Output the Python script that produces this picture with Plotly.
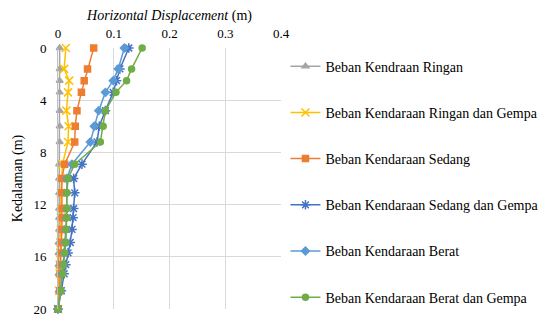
import plotly.graph_objects as go

# Depth of each reading (m)
depth = [0, 1.6, 2.5, 3.4, 4.8, 6.0, 7.2, 8.9, 10.0, 11.1, 12.3, 13.0, 13.9, 14.9, 15.7, 16.6, 17.3, 18.6, 20.0]

# Horizontal displacement (m) for each load case
ringan = [0.003, 0.003, 0.003, 0.003, 0.003, 0.003, 0.003, 0.002, 0.002, 0.002, 0.002, 0.002, 0.002, 0.001, 0.001, 0.001, 0.001, 0.001, 0.0]
ringan_gempa = [0.014, 0.011, 0.020, 0.018, 0.015, 0.019, 0.018, 0.008, 0.006, 0.005, 0.005, 0.005, 0.005, 0.004, 0.004, 0.003, 0.003, 0.002, 0.0]
sedang = [0.064, 0.053, 0.047, 0.042, 0.034, 0.031, 0.030, 0.012, 0.007, 0.007, 0.008, 0.008, 0.007, 0.006, 0.005, 0.004, 0.004, 0.003, 0.0]
sedang_gempa = [0.127, 0.111, 0.105, 0.099, 0.085, 0.074, 0.070, 0.043, 0.028, 0.030, 0.028, 0.027, 0.025, 0.022, 0.018, 0.014, 0.011, 0.006, 0.0]
berat = [0.119, 0.108, 0.099, 0.085, 0.073, 0.065, 0.058, 0.025, 0.016, 0.016, 0.016, 0.015, 0.014, 0.013, 0.011, 0.009, 0.007, 0.005, 0.0]
berat_gempa = [0.151, 0.132, 0.123, 0.104, 0.085, 0.081, 0.076, 0.030, 0.018, 0.016, 0.016, 0.016, 0.015, 0.014, 0.012, 0.010, 0.008, 0.005, 0.0]

names = [
    "Beban Kendraan Ringan",
    "Beban Kendaraan Ringan dan Gempa",
    "Beban Kendaraan Sedang",
    "Beban Kendaraan Sedang dan Gempa",
    "Beban Kendaraan Berat",
    "Beban Kendaraan Berat dan Gempa",
]
series = [ringan, ringan_gempa, sedang, sedang_gempa, berat, berat_gempa]
colors = ["#A5A5A5", "#FFC000", "#ED7D31", "#4472C4", "#5B9BD5", "#70AD47"]
symbols = ["triangle-up", "x-thin-open", "square", "asterisk-open", "diamond", "circle"]
sizes = [6, 8, 6, 8, 6, 6]

fig = go.Figure()
for i, (name, vals) in enumerate(zip(names, series)):
    fig.add_trace(go.Scatter(
        x=vals, y=depth, name=name, mode="lines+markers",
        line=dict(color=colors[i], width=1.5),
        marker=dict(symbol=symbols[i], size=sizes[i], color=colors[i],
                    line=dict(color=colors[i], width=1.5)),
        cliponaxis=False,
        legendgroup=f"g{i}",
    ))

face = "Liberation Serif, serif"
fig.update_layout(
    width=550, height=323,
    margin=dict(l=58, r=268, t=48, b=6),
    paper_bgcolor="white", plot_bgcolor="white",
    font=dict(family=face, size=13, color="#000000"),
    xaxis=dict(
        side="top", range=[0, 0.4], dtick=0.1, tick0=0,
        showgrid=True, gridcolor="#D9D9D9", gridwidth=1,
        zeroline=False, showline=False, ticks="",
        ticklabelstandoff=6,
        title=dict(text="<i>Horizontal Displacement</i> (m)", standoff=2,
                   font=dict(family=face, size=14)),
        tickfont=dict(family=face, size=13),
    ),
    yaxis=dict(
        range=[20, 0], dtick=4, tick0=0,
        showgrid=True, gridcolor="#D9D9D9", gridwidth=1,
        zeroline=False, showline=True, linecolor="#BFBFBF", linewidth=1,
        ticks="", ticklabelstandoff=8, ticklabeloverflow="allow",
        title=dict(text="Kedalaman (m)", standoff=7,
                   font=dict(family=face, size=14)),
        tickfont=dict(family=face, size=13),
    ),
    legend=dict(
        x=1.02, y=0.99, xanchor="left", yanchor="top",
        font=dict(family=face, size=14),
        tracegroupgap=25, traceorder="grouped",
        itemwidth=30, maxheight=323,
        bgcolor="rgba(0,0,0,0)",
    ),
    showlegend=True,
)

fig.write_html("out.html")
